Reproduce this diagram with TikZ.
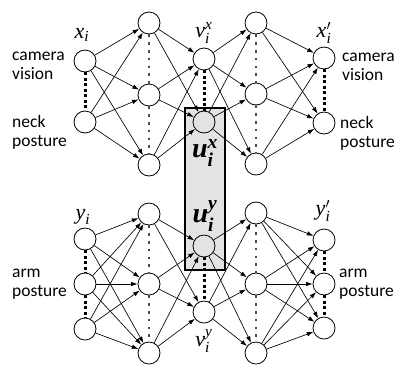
\documentclass[tikz,border=0pt]{standalone}
\usepackage{amsmath}
\usepackage{fontspec}
\setsansfont{Carlito}
\newfontfamily\varfont{Liberation Serif}
\newcommand{\vv}[1]{\text{\varfont\itshape #1}}
\newcommand{\bvv}[1]{\text{\varfont\bfseries\itshape #1}}
\usetikzlibrary{arrows.meta}
\begin{document}
\begin{tikzpicture}[x=1pt,y=-1pt,
  neuron/.style={circle,draw,line width=0.8pt,minimum size=22pt,inner sep=0pt,fill=white},
  shared/.style={neuron,fill=gray!22},
  link/.style={line width=0.65pt,-{Latex[length=6.5pt,width=4.5pt]}},
  bigdots/.style={line width=3pt,dash pattern=on 3pt off 2.5pt},
  smalldots/.style={line width=2.6pt,dash pattern=on 2.6pt off 5.2pt,black!70},
  lab/.style={font=\sffamily\fontsize{17.5}{19}\selectfont,align=left,anchor=west,inner sep=0pt},
  sym/.style={font=\fontsize{22}{22}\selectfont,inner sep=0pt},
  bsym/.style={font=\fontsize{28}{28}\selectfont,inner sep=0pt}
]
\useasboundingbox (0,0) rectangle (395,365);

% shared-code box (fill)
\fill[gray!22] (185,108) rectangle (225,270);

% ---------- upper network: camera vision / neck posture ----------
\node[neuron] (ti1) at (85,61) {};
\node[neuron] (ti2) at (85,122) {};
\node[neuron] (ta1) at (149,23) {};
\node[neuron] (ta2) at (149,95) {};
\node[neuron] (ta3) at (149,165) {};
\node[neuron] (tv)  at (204,59) {};
\node[shared] (tu)  at (204,122) {};
\node[neuron] (tb1) at (256,23) {};
\node[neuron] (tb2) at (256,94) {};
\node[neuron] (tb3) at (256,164) {};
\node[neuron] (to1) at (324,58) {};
\node[neuron] (to2) at (324,123) {};

% ---------- lower network: arm posture ----------
\node[neuron] (bi1) at (85,239) {};
\node[neuron] (bi2) at (85,284) {};
\node[neuron] (bi3) at (85,329) {};
\node[neuron] (ba1) at (149,214) {};
\node[neuron] (ba2) at (149,284) {};
\node[neuron] (ba3) at (149,353) {};
\node[shared] (bu)  at (204,246) {};
\node[neuron] (bv)  at (204,312) {};
\node[neuron] (bb1) at (256,213) {};
\node[neuron] (bb2) at (256,284) {};
\node[neuron] (bb3) at (256,353) {};
\node[neuron] (bo1) at (324,240) {};
\node[neuron] (bo2) at (324,284) {};
\node[neuron] (bo3) at (324,328) {};

% connections, upper network
\foreach \s in {ti1,ti2}{\foreach \t in {ta1,ta2,ta3}{\draw[link] (\s) -- (\t);}}
\foreach \s in {ta1,ta2,ta3}{\foreach \t in {tv,tu}{\draw[link] (\s) -- (\t);}}
\foreach \s in {tv,tu}{\foreach \t in {tb1,tb2,tb3}{\draw[link] (\s) -- (\t);}}
\foreach \s in {tb1,tb2,tb3}{\foreach \t in {to1,to2}{\draw[link] (\s) -- (\t);}}

% connections, lower network
\foreach \s in {bi1,bi2,bi3}{\foreach \t in {ba1,ba2,ba3}{\draw[link] (\s) -- (\t);}}
\foreach \s in {ba1,ba2,ba3}{\foreach \t in {bu,bv}{\draw[link] (\s) -- (\t);}}
\foreach \s in {bu,bv}{\foreach \t in {bb1,bb2,bb3}{\draw[link] (\s) -- (\t);}}
\foreach \s in {bb1,bb2,bb3}{\foreach \t in {bo1,bo2,bo3}{\draw[link] (\s) -- (\t);}}

% ellipsis dashes inside layers
\draw[bigdots] (ti1.south) -- (ti2.north);
\draw[bigdots] (tv.south) -- (tu.north);
\draw[bigdots] (to1.south) -- (to2.north);
\draw[bigdots] (bi1.south) -- (bi2.north);
\draw[bigdots] (bi2.south) -- (bi3.north);
\draw[bigdots] (bu.south) -- (bv.north);
\draw[bigdots] (bo1.south) -- (bo2.north);
\draw[bigdots] (bo2.south) -- (bo3.north);
\draw[smalldots] (ta1.south) -- (ta2.north);
\draw[smalldots] (ta2.south) -- (ta3.north);
\draw[smalldots] (tb1.south) -- (tb2.north);
\draw[smalldots] (tb2.south) -- (tb3.north);
\draw[smalldots] (ba1.south) -- (ba2.north);
\draw[smalldots] (ba2.south) -- (ba3.north);
\draw[smalldots] (bb1.south) -- (bb2.north);
\draw[smalldots] (bb2.south) -- (bb3.north);

% shared-code box (border)
\draw[line width=2.8pt] (185,108) rectangle (225,270);

% variable names
\node[sym] (lxi) at (82,35) {$\vv{x}_{\vv{i}}$};
\node[sym] (lvx) at (204,33) {$\vv{v}_{\vv{i}}^{\vv{x}}$};
\node[sym] (lxo) at (324,33) {$\vv{x}_{\vv{i}}'$};
\node[sym] (lyi) at (83,217) {$\vv{y}_{\vv{i}}$};
\node[sym] (lyo) at (323,211) {$\vv{y}_{\vv{i}}'$};
\node[sym] (lvy) at (204,341) {$\vv{v}_{\vv{i}}^{\vv{y}}$};
\node[bsym] (lux) at (205,153) {$\bvv{u}_{\bvv{i}}^{\bvv{x}}$};
\node[bsym] (luy) at (205,216) {$\bvv{u}_{\bvv{i}}^{\bvv{y}}$};

% modality names
\node[lab] (cv1) at (12,66) {camera\\vision};
\node[lab] (np1) at (12,132) {neck\\posture};
\node[lab] (ap1) at (12,284) {arm\\posture};
\node[lab] (cv2) at (342,67) {camera\\vision};
\node[lab] (np2) at (340,133) {neck\\posture};
\node[lab] (ap2) at (339,284) {arm\\posture};
\end{tikzpicture}
\end{document}
